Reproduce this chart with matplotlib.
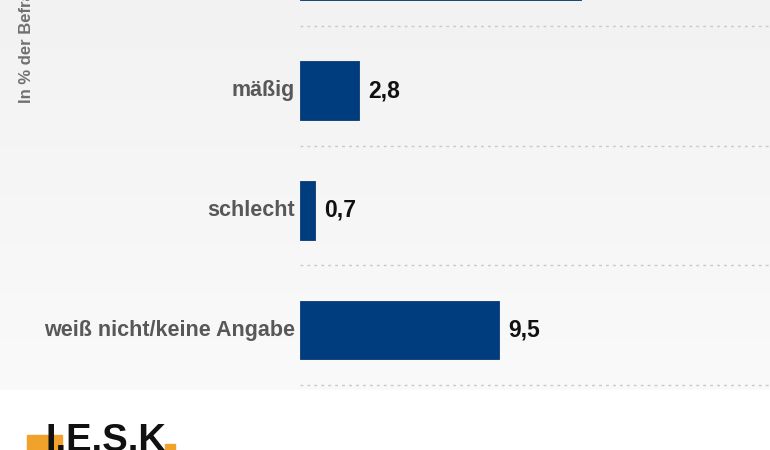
import matplotlib.pyplot as plt
import numpy as np
from matplotlib.patches import Rectangle
from matplotlib.colors import LinearSegmentedColormap

# data (top row is cut off in the reference)
categories = ["gut", "mäßig", "schlecht", "weiß nicht/keine Angabe"]
values = [13.4, 2.8, 0.7, 9.5]
value_labels = ["13,4", "2,8", "0,7", "9,5"]
y_title = "In % der Befragten"

W, H = 770, 450
fig = plt.figure(figsize=(W / 100, H / 100), dpi=100)
fig.patch.set_facecolor("white")

# light grey background panel with a soft gradient
bg = fig.add_axes([0, 1 - 390 / H, 1, 390 / H])
grad = np.linspace(0, 1, 256).reshape(-1, 1)
bg.imshow(grad, aspect="auto", extent=[0, 1, 0, 1],
          cmap=LinearSegmentedColormap.from_list("g", ["#f2f2f2", "#fafafa"]))
bg.axis("off")

# main axes: x from 300px to right edge, y from 0 to 385px
ax = fig.add_axes([300 / W, 1 - 385 / H, 1 - 300 / W, 385 / H])
ax.patch.set_alpha(0)
px_per_unit = 199 / 9.5
ax.set_xlim(0, (W - 300) / px_per_unit)
ax.set_ylim(3 + 55 / 120, 3 - 331 / 120)

y = np.arange(len(categories))
ax.barh(y, values, height=0.49, color="#003d7e", edgecolor="#0a3a70", linewidth=0.6)

for yi, v, lab in zip(y, values, value_labels):
    ax.text(v + 0.45, yi, lab, va="center", ha="left", fontsize=16.5,
            fontweight="bold", color="#111111", family="Liberation Sans")
    ax.text(-0.25, yi, categories[yi], va="center", ha="right", fontsize=15.5,
            fontweight="bold", color="#585858", family="Liberation Sans")

for g in y + 0.458:
    ax.axhline(g, color="#c8c8c8", linestyle=(0, (2, 3)), linewidth=1, clip_on=False)

for s in ax.spines.values():
    s.set_visible(False)
ax.set_xticks([])
ax.set_yticks([])

# rotated y title, cut off at the top
fig.text(27 / W, 1 - 103 / H, y_title, rotation=90, ha="center", va="bottom",
         fontsize=12, fontweight="bold", color="#707070", family="Liberation Sans")

# logo at the bottom left
fig.patches.append(Rectangle((27 / W, 0), 35 / W, 15 / H, transform=fig.transFigure,
                             color="#f0a22a", zorder=1))
fig.patches.append(Rectangle((165 / W, 0), 10 / W, 6 / H, transform=fig.transFigure,
                             color="#f0a22a", zorder=1))
fig.text(45 / W, 1 - 423 / H, "I.E.S.K", ha="left", va="top", fontsize=27.5,
         fontweight="bold", color="#111111", family="Liberation Sans", zorder=3)

fig.savefig("out.png", dpi=100, facecolor="white")
